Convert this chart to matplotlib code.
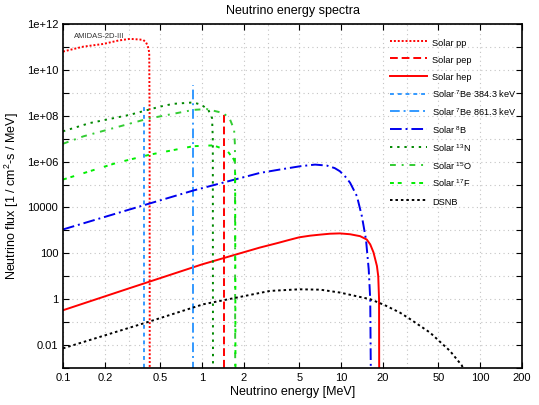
import numpy as np
import matplotlib
matplotlib.use("Agg")
import matplotlib.pyplot as plt
from matplotlib.ticker import FixedLocator, NullFormatter

plt.rcParams['font.family'] = ['Liberation Sans', 'DejaVu Sans']
plt.rcParams['mathtext.fontset'] = 'custom'
plt.rcParams['mathtext.rm'] = 'Liberation Sans'
plt.rcParams['mathtext.it'] = 'Liberation Sans'

# continuous spectra, energy [MeV] vs flux [1/cm^2/s/MeV]
pp_e = [0.1, 0.14, 0.195, 0.25, 0.303, 0.358, 0.378, 0.395, 0.404, 0.412, 0.417, 0.4195, 0.4205]
pp_f = [6.3e10, 1.03e11, 1.35e11, 1.9e11, 2.25e11, 2.1e11, 2.0e11, 1.6e11, 1.2e11, 8.5e10, 5.5e10, 1e8, 1e-4]

hep_e = [0.1, 0.3, 1.0, 2.6, 3.5, 4.2, 5.0, 6.0, 7.0, 8.3, 9.8, 11.6, 13.7, 15.3, 16.2, 17.1, 18.1, 18.5, 18.75, 18.8]
hep_f = [0.33, 3.0, 33, 178, 282, 380, 500, 590, 650, 716, 740, 680, 560, 400, 245, 110, 28, 10, 1.0, 1e-4]

b8_e = [0.1, 0.389, 0.866, 2.6, 3.62, 5.1, 6.5, 7.9, 9.0, 9.8, 10.8, 11.6, 13.0, 14.1, 15.1, 15.8, 16.2, 16.4]
b8_f = [1100, 1.3e4, 5.5e4, 3.2e5, 4.5e5, 6.3e5, 7.4e5, 6.7e5, 5.2e5, 3.8e5, 2.1e5, 1.2e5, 3.1e4, 4.2e3, 400, 20, 1.0, 1e-4]

n13_e = [0.1, 0.156, 0.303, 0.499, 0.62, 0.866, 0.99, 1.11, 1.18, 1.195, 1.199]
n13_f = [2.1e7, 4.8e7, 1.1e8, 2.5e8, 3.3e8, 3.8e8, 3.0e8, 1.8e8, 8e7, 1e7, 1e-4]

o15_e = [0.1, 0.14, 0.40, 0.866, 1.08, 1.43, 1.59, 1.70, 1.725, 1.732]
o15_f = [6.0e6, 1.26e7, 7.2e7, 1.8e8, 1.95e8, 1.3e8, 6.8e7, 2.5e7, 5e6, 1e-4]

f17_e = [0.1, 0.243, 0.42, 0.866, 1.21, 1.51, 1.70, 1.73, 1.74]
f17_f = [1.65e5, 8.8e5, 2.0e6, 4.7e6, 5.1e6, 3.1e6, 1.2e6, 3e5, 1e-4]

dsnb_e = [0.1, 0.42, 1.02, 3.08, 5.0, 7.1, 9.8, 16.2, 20.6, 26.5, 31.4, 43.6, 60.6, 73.8, 78.0]
dsnb_f = [0.0072, 0.107, 0.6, 2.3, 2.7, 2.6, 1.95, 1.0, 0.55, 0.26, 0.135, 0.035, 0.0056, 0.0013, 6e-4]

# line spectra
pep_e, pep_top = 1.442, 1.4e8
be7a_e, be7a_top = 0.3843, 2.7e8
be7b_e, be7b_top = 0.8613, 2.2e9
line_floor = 1e-4

xticks = [0.1, 0.2, 0.5, 1, 2, 5, 10, 20, 50, 100, 200]
xtick_labels = ['0.1', '0.2', '0.5', '1', '2', '5', '10', '20', '50', '100', '200']
xminor = [0.3, 3, 30]
yticks = [1e-2, 1, 1e2, 1e4, 1e6, 1e8, 1e10, 1e12]
ytick_labels = ['0.01', '1', '100', '10000', '1e+06', '1e+08', '1e+10', '1e+12']
yminor = [1e-3, 1e-1, 1e1, 1e3, 1e5, 1e7, 1e9, 1e11]

red = '#ff0000'
lblue = '#3399ff'
blue = '#0000ee'
dgreen = '#008800'
mgreen = '#33cc33'
lgreen = '#00ee00'

fig = plt.figure(figsize=(5.39, 4.05), dpi=100)
ax = fig.add_axes([63/539, 1-368/405, 459/539, 344/405])

lw = 1.4
ax.plot(pp_e, pp_f, color=red, lw=lw, ls=(0, (1, 1)), label='Solar pp')
ax.plot([pep_e, pep_e], [line_floor, pep_top], color=red, lw=lw, ls=(0, (4, 2)), label='Solar pep')
ax.plot(hep_e, hep_f, color=red, lw=lw, ls='-', label='Solar hep')
ax.plot([be7a_e, be7a_e], [line_floor, be7a_top], color=lblue, lw=lw, ls=(0, (2, 2)),
        label='Solar $^{7}$Be 384.3 keV')
ax.plot([be7b_e, be7b_e], [line_floor, be7b_top], color=lblue, lw=lw, ls=(0, (5, 2, 1, 2)),
        label='Solar $^{7}$Be 861.3 keV')
ax.plot(b8_e, b8_f, color=blue, lw=lw, ls=(0, (6, 2, 1, 2)), label='Solar $^{8}$B')
ax.plot(n13_e, n13_f, color=dgreen, lw=lw, ls=(0, (1.2, 2.5)), label='Solar $^{13}$N')
ax.plot(o15_e, o15_f, color=mgreen, lw=lw, ls=(0, (3, 3, 1, 3)), label='Solar $^{15}$O')
ax.plot(f17_e, f17_f, color=lgreen, lw=lw, ls=(0, (2, 2, 2, 5)), label='Solar $^{17}$F')
ax.plot(dsnb_e, dsnb_f, color='black', lw=lw, ls=(0, (1.3, 1.5)), label='DSNB')

ax.set_xscale('log')
ax.set_yscale('log')
ax.set_xlim(0.1, 200)
ax.set_ylim(1e-3, 1e12)

ax.xaxis.set_major_locator(FixedLocator(xticks))
ax.set_xticklabels(xtick_labels)
ax.xaxis.set_minor_locator(FixedLocator(xminor))
ax.xaxis.set_minor_formatter(NullFormatter())
ax.yaxis.set_major_locator(FixedLocator(yticks))
ax.set_yticklabels(ytick_labels)
ax.yaxis.set_minor_locator(FixedLocator(yminor))
ax.yaxis.set_minor_formatter(NullFormatter())

ax.tick_params(which='major', direction='in', length=4, width=0.8, top=True, right=True, labelsize=8)
ax.tick_params(which='minor', direction='in', length=4, width=0.8, top=True, right=True)
ax.tick_params(axis='x', which='minor', length=0)
ax.grid(True, which='both', color='#c4c4c4', ls=(0, (1, 3)), lw=0.8)
for s in ax.spines.values():
    s.set_linewidth(1.2)

ax.set_xlabel('Neutrino energy [MeV]', fontsize=9, labelpad=2)
ax.set_ylabel('Neutrino flux [1 / cm$^{2}$-s / MeV]', fontsize=9, labelpad=4)
ax.set_title('Neutrino energy spectra', fontsize=9, pad=7)
ax.text(0.024, 0.975, 'AMIDAS-2D-III', transform=ax.transAxes, fontsize=5.5,
        color='#333333', va='top', ha='left')

ax.legend(loc='upper left', bbox_to_anchor=((390-63)/459, (368-36.5)/344), frameon=False,
          fontsize=6.6, handlelength=4.0, handleheight=1.7, handletextpad=0.6,
          labelspacing=0.54, borderpad=0, borderaxespad=0)

fig.savefig('out.png', dpi=100)
